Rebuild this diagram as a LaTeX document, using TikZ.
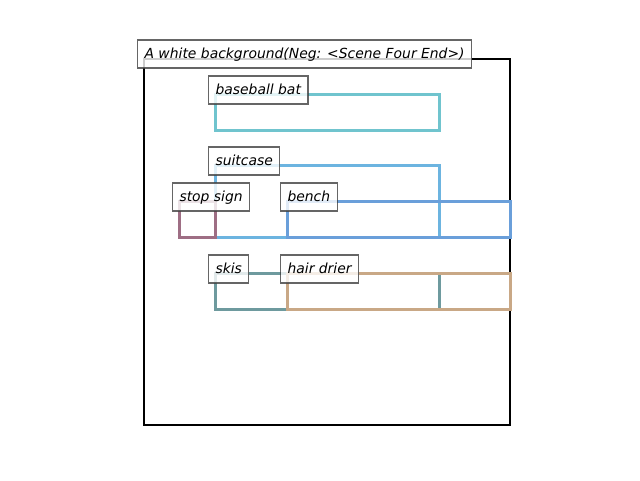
\documentclass[tikz,border=0pt]{standalone}
\usepackage{fontspec}
\setmainfont{DejaVu Sans}
\begin{document}
\begin{tikzpicture}[x=1pt,y=-1pt,
  lbl/.style={draw=black!75, fill=white, fill opacity=0.8, text opacity=1, draw opacity=0.8,
    line width=1.1pt, anchor=west, inner xsep=7pt, inner ysep=0pt, minimum height=28pt,
    font=\fontsize{13.9}{16}\selectfont\itshape, text height=11pt, text depth=2.8pt},
  obj/.style={line width=3pt, line join=miter}]
\useasboundingbox (0,0) rectangle (640,480);
\definecolor{cbat}{HTML}{70C4CE}
\definecolor{csuit}{HTML}{6CB4E0}
\definecolor{cstop}{HTML}{9E6E84}
\definecolor{cbench}{HTML}{6A9FDA}
\definecolor{cskis}{HTML}{6E9A9E}
\definecolor{chair}{HTML}{C9A886}
% frame
\draw[line width=2.3pt, black] (144,59) rectangle (510,425);
% objects
\draw[obj, cbat] (215,94) rectangle (439,130);
\draw[obj, csuit] (215,165) rectangle (439,237);
\draw[obj, cstop] (179,201) rectangle (215,237);
\draw[obj, cbench] (287,201) rectangle (510,237);
\draw[obj, cskis] (215,273) rectangle (439,309);
\draw[obj, chair] (287,273) rectangle (510,309);
% labels
\node[lbl] (title) at (137,54) {A white background(Neg: <Scene Four End>)};
\node[lbl] (bat) at (208,90) {baseball bat};
\node[lbl] (suit) at (208,161) {suitcase};
\node[lbl] (stop) at (172,197) {stop sign};
\node[lbl] (bench) at (280,197) {bench};
\node[lbl] (skis) at (208,269) {skis};
\node[lbl] (hair) at (280,269) {hair drier};
\end{tikzpicture}
\end{document}
